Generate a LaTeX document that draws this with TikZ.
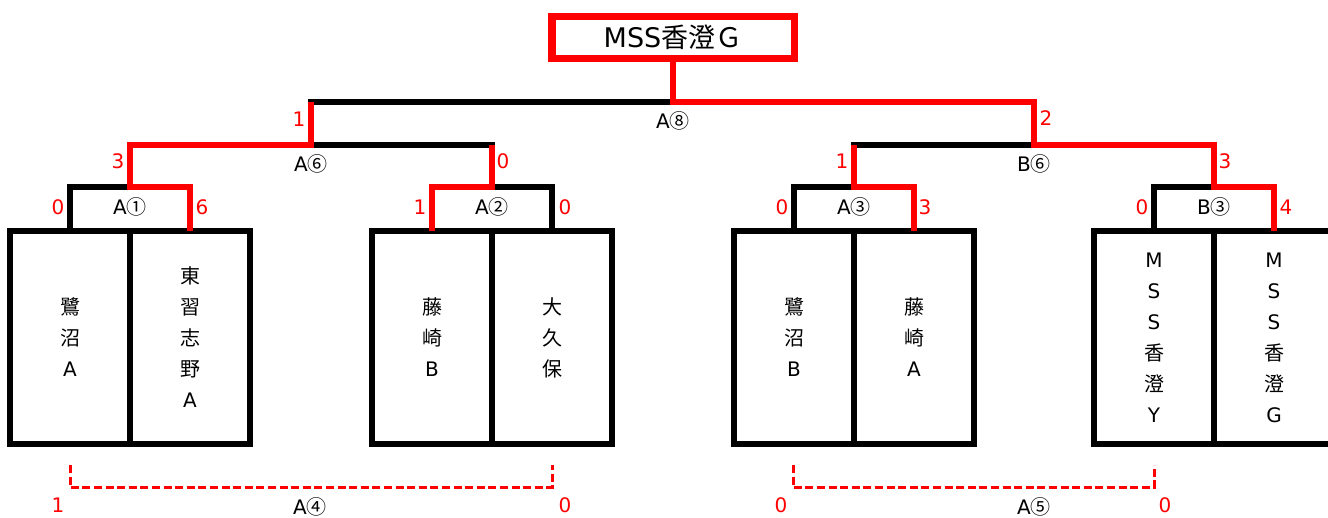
\documentclass[tikz,border=0pt]{standalone}
\usepackage{fontspec}
\setmainfont{DejaVu Sans}
\newfontfamily\jp{Noto Sans CJK JP}
\usetikzlibrary{positioning}
\tikzset{
    team/.style={draw, line width=3.25pt, minimum width=60pt, minimum height=106.5pt, inner sep=0pt, outer sep=0pt, align=center, font=\fontsize{10}{15.5}\selectfont},
    champ/.style={draw=red, line width=3.75pt, minimum width=121.25pt, minimum height=21pt, inner sep=0pt, outer sep=0pt, font=\fontsize{13.5}{16}\selectfont},
    bracket/.style={line width=2.75pt},
    win/.style={red, line width=3.25pt},
    playoff/.style={red, line width=1.5pt, dash pattern=on 4pt off 1.8pt},
    score/.style={text=red, inner sep=0pt, font=\fontsize{10}{12}\selectfont},
    game/.style={inner sep=0pt, font=\fontsize{10}{12}\selectfont},
}

\begin{document}
\begin{tikzpicture}[x=0.5pt, y={(0pt,-0.5pt)}]
    \useasboundingbox (0,0) rectangle (1328,518);
    % teams
    \node[team] (t1) at (70,337.5) {{\jp 鷺}\\{\jp 沼}\\A};
    \node[team, right=0pt of t1] (t2) {{\jp 東}\\{\jp 習}\\{\jp 志}\\{\jp 野}\\A};
    \node[team] (t3) at (432,337.5) {{\jp 藤}\\{\jp 崎}\\B};
    \node[team, right=0pt of t3] (t4) {{\jp 大}\\{\jp 久}\\{\jp 保}};
    \node[team] (t5) at (794,337.5) {{\jp 鷺}\\{\jp 沼}\\B};
    \node[team, right=0pt of t5] (t6) {{\jp 藤}\\{\jp 崎}\\A};
    \node[team] (t7) at (1154,337.5) {M\\S\\S\\{\jp 香}\\{\jp 澄}\\Y};
    \node[team, right=0pt of t7] (t8) {M\\S\\S\\{\jp 香}\\{\jp 澄}\\G};
    \node[champ] (champ) at (673,37.5) {MSS{\jp 香澄Ｇ}};
    % bracket corners
    \coordinate (m1) at (130,187);
    \coordinate (m2) at (492,187);
    \coordinate (m3) at (854,187);
    \coordinate (n3) at (1214,187);
    \coordinate (m6) at (311,145);
    \coordinate (n6) at (1034,145);
    \coordinate (m8) at (673,102);
    \draw[bracket] (t1.north) |- (m1) -| (t2.north);
    \draw[bracket] (t3.north) |- (m2) -| (t4.north);
    \draw[bracket] (t5.north) |- (m3) -| (t6.north);
    \draw[bracket] (t7.north) |- (n3) -| (t8.north);
    \draw[bracket] (m1) |- (m6) -| (m2);
    \draw[bracket] (m3) |- (n6) -| (n3);
    \draw[bracket] (m6) |- (m8) -| (n6);
    % winners
    \draw[win] (t2.north) |- (m1) |- (m6) -- (m6 |- m8);
    \draw[win] (t3.north) |- (m2) -- (m2 |- m6);
    \draw[win] (t6.north) |- (m3) -- (m3 |- n6);
    \draw[win] (t8.north) |- (n3) |- (n6) |- (m8) -- (champ.south);
    % 3rd place games
    \coordinate (d4) at (70,465);
    \coordinate (e4) at (552,465);
    \coordinate (d5) at (793,465);
    \coordinate (e5) at (1154,465);
    \draw[playoff] (d4) -- ++(0,22.5) -| (e4);
    \draw[playoff] (d5) -- ++(0,22.5) -| (e5);
    % game labels
    \node[game] (gA1) at (130,207) {A{\jp ①}};
    \node[game] (gA2) at (492,207) {A{\jp ②}};
    \node[game] (gA3) at (854,207) {A{\jp ③}};
    \node[game] (gB3) at (1214,207) {B{\jp ③}};
    \node[game] (gA6) at (311,164) {A{\jp ⑥}};
    \node[game] (gB6) at (1034,164) {B{\jp ⑥}};
    \node[game] (gA8) at (673,121) {A{\jp ⑧}};
    \node[game] (gA4) at (310,507) {A{\jp ④}};
    \node[game] (gA5) at (1034,507) {A{\jp ⑤}};
    % scores
    \node[score] (s1) at (58,207) {0};
    \node[score] (s2) at (202,207) {6};
    \node[score] (s3) at (420,207) {1};
    \node[score] (s4) at (565,207) {0};
    \node[score] (s5) at (782,207) {0};
    \node[score] (s6) at (925,207) {3};
    \node[score] (s7) at (1142,207) {0};
    \node[score] (s8) at (1286,207) {4};
    \node[score] (s9) at (118,161) {3};
    \node[score] (s10) at (503,161) {0};
    \node[score] (s11) at (842,161) {1};
    \node[score] (s12) at (1225,161) {3};
    \node[score] (s13) at (299,119) {1};
    \node[score] (s14) at (1046,118) {2};
    \node[score] (s15) at (58,505) {1};
    \node[score] (s16) at (565,505) {0};
    \node[score] (s17) at (781,505) {0};
    \node[score] (s18) at (1165,505) {0};
\end{tikzpicture}
\end{document}
